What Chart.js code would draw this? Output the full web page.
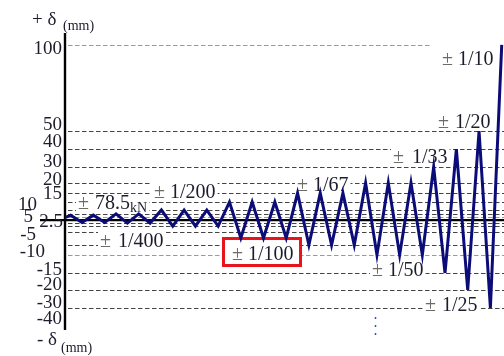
<!DOCTYPE html>
<html>
<head>
<meta charset="utf-8">
<script src="https://cdn.jsdelivr.net/npm/chart.js@4.4.1/dist/chart.umd.min.js"></script>
<style>
  html, body { margin: 0; padding: 0; background: #fff; }
  canvas { display: block; }
</style>
</head>
<body>
<canvas id="protocol-chart" width="504" height="356"></canvas>
<script>
// cyclic loading protocol, peak displacement (mm) of each half cycle
const displacement = [0,
    2, -2, 2, -2,
    2.5, -2.5, 2.5, -2.5,
    5, -5, 5, -5, 5, -5,
    10, -10, 10, -10, 10, -10,
    15, -15, 15, -15, 15, -15,
    20, -20, 20, -20, 20, -20,
    30, -30,
    40, -40,
    50, -50,
    100];
const cycleLabels = ['±78.5kN', '±1/400', '±1/200', '±1/100', '±1/67', '±1/50', '±1/33', '±1/25', '±1/20', '±1/10'];
const yTickLabels = ['100', '50', '40', '30', '20', '15', '10', '5', '2.5', '-5', '-10', '-15', '-20', '-30', '-40'];
const guideLevels = [100, 50, 40, 30, 20, 15, 10, 5, 2.5, 1.25, -2.5, -5, -7.5, -15, -20, -30, -40, -50];

// the drawing's y axis is not to scale: [mm, share of plot height]
const yBreaks = [[-62, 0], [-50, 0.074], [-40, 0.135], [-30, 0.192], [-20, 0.253], [-15, 0.286],
    [-10, 0.31], [-5, 0.35], [-2.5, 0.36], [0, 0.37], [2.5, 0.391], [5, 0.404], [10, 0.431],
    [15, 0.461], [20, 0.495], [30, 0.549], [40, 0.609], [50, 0.67], [100, 0.96], [107, 1]];

class BrokenScale extends Chart.LinearScale {
    _share(v) {
        if (v <= yBreaks[0][0]) return yBreaks[0][1];
        for (let i = 1; i < yBreaks.length; i++) {
            if (v <= yBreaks[i][0]) {
                const [v0, f0] = yBreaks[i - 1];
                const [v1, f1] = yBreaks[i];
                return f0 + (f1 - f0) * (v - v0) / (v1 - v0);
            }
        }
        return 1;
    }
    getPixelForValue(v) {
        return this.getPixelForDecimal(this._share(v));
    }
    getValueForPixel(p) {
        const f = this.getDecimalForPixel(p);
        for (let i = 1; i < yBreaks.length; i++) {
            if (f <= yBreaks[i][1]) {
                const [v0, f0] = yBreaks[i - 1];
                const [v1, f1] = yBreaks[i];
                return v0 + (v1 - v0) * (f - f0) / (f1 - f0);
            }
        }
        return yBreaks[yBreaks.length - 1][0];
    }
}
BrokenScale.id = 'broken';
BrokenScale.defaults = {};
Chart.register(BrokenScale);

const serif = '"Liberation Serif", "Times New Roman", serif';
const inkColor = '#1c1c2c';

// where the hand placed labels sit in the drawing
const tickSpots = [[62, 54], [62, 130], [62, 147], [62, 167], [62, 185], [62, 199], [37, 210], [33, 222],
    [63, 227], [36, 240], [45, 257], [62, 275], [62, 290], [62, 308], [62, 324]];
const cycleSpots = [[78, 209, 17], [100, 247, 18], [154, 198, 16], [232, 260, 16], [297, 191, 16],
    [372, 276, 16], [393, 163, 19], [425, 311, 17], [438, 128, 17], [442, 65, 16]];

function measureCycle(ctx, label, gap) {
    let rest = label.slice(1);
    let sub = '';
    if (rest.endsWith('kN')) { sub = 'kN'; rest = rest.slice(0, -2); }
    ctx.font = `20px ${serif}`;
    let w = gap + ctx.measureText(rest).width;
    if (sub) {
        ctx.font = `14px ${serif}`;
        w += ctx.measureText(sub).width;
    }
    return { rest, sub, w };
}

const decorPlugin = {
    id: 'decor',
    beforeDatasetsDraw(chart) {
        const { ctx, chartArea } = chart;
        const y = chart.scales.y;
        ctx.save();

        // dashed guide levels
        ctx.setLineDash([4.5, 2.5]);
        ctx.lineWidth = 1.2;
        guideLevels.forEach(level => {
            const py = Math.round(y.getPixelForValue(level)) + 0.5;
            ctx.strokeStyle = (level === 100 || level === -20 || level === 1.25) ? '#9a9a9a' : '#444';
            ctx.beginPath();
            ctx.moveTo(chartArea.left + 3, py);
            ctx.lineTo(level === 100 ? 432 : chartArea.right, py);
            ctx.stroke();
        });
        ctx.setLineDash([]);

        // zero line
        const y0 = y.getPixelForValue(0);
        ctx.strokeStyle = '#000';
        ctx.lineWidth = 2.2;
        ctx.beginPath();
        ctx.moveTo(40, y0);
        ctx.lineTo(chartArea.right, y0);
        ctx.stroke();

        // vertical axis
        ctx.lineWidth = 2.4;
        ctx.beginPath();
        ctx.moveTo(chartArea.left, chartArea.top);
        ctx.lineTo(chartArea.left, chartArea.bottom);
        ctx.stroke();

        // tick labels
        ctx.font = `19px ${serif}`;
        ctx.fillStyle = inkColor;
        ctx.textAlign = 'right';
        ctx.textBaseline = 'alphabetic';
        yTickLabels.forEach((t, i) => ctx.fillText(t, tickSpots[i][0], tickSpots[i][1]));

        // axis captions
        ctx.textAlign = 'left';
        ctx.font = `19px ${serif}`;
        ctx.fillText('+ δ', 32, 25);
        ctx.fillText('- δ', 37, 345);
        ctx.font = `14px ${serif}`;
        ctx.fillText('(mm)', 63, 30);
        ctx.fillText('(mm)', 61, 352);

        // red frame around 1/100
        ctx.fillStyle = '#fff';
        ctx.fillRect(222, 237, 80, 30);
        ctx.strokeStyle = '#e8141c';
        ctx.lineWidth = 3;
        ctx.strokeRect(223.5, 238.5, 77, 27);

        // cycle labels
        cycleLabels.forEach((label, i) => {
            const [x, by, gap] = cycleSpots[i];
            const m = measureCycle(ctx, label, gap);
            if (i !== 3) {
                ctx.fillStyle = '#fff';
                ctx.fillRect(x - 2, by - 15, m.w + 4, 18);
            }
            ctx.font = `20px ${serif}`;
            ctx.fillStyle = '#6e6a66';
            ctx.fillText('±', x, by);
            ctx.fillStyle = inkColor;
            ctx.fillText(m.rest, x + gap, by);
            if (m.sub) {
                const rw = ctx.measureText(m.rest).width;
                ctx.font = `14px ${serif}`;
                ctx.fillText(m.sub, x + gap + rw, by + 3);
            }
        });

        // small dotted mark under the plot
        ctx.strokeStyle = '#3050c0';
        ctx.lineWidth = 1.5;
        ctx.setLineDash([2, 6]);
        ctx.beginPath();
        ctx.moveTo(375.5, 317);
        ctx.lineTo(375.5, 341);
        ctx.stroke();

        ctx.restore();
    }
};

const points = displacement.map((d, i) => ({ x: i, y: d }));

new Chart(document.getElementById('protocol-chart').getContext('2d'), {
    type: 'line',
    data: {
        datasets: [{
            data: points,
            borderColor: '#0c0c78',
            borderWidth: 3,
            pointRadius: 0,
            tension: 0,
            borderJoinStyle: 'miter'
        }]
    },
    options: {
        responsive: false,
        animation: false,
        devicePixelRatio: 1,
        layout: {
            padding: { left: 65, right: 0, top: 33, bottom: 26 }
        },
        plugins: {
            legend: { display: false },
            tooltip: { enabled: false }
        },
        scales: {
            x: {
                type: 'linear',
                min: 0.5,
                max: 39.2,
                display: false
            },
            y: {
                type: 'broken',
                min: -62,
                max: 107,
                display: false
            }
        }
    },
    plugins: [decorPlugin]
});
</script>
</body>
</html>
